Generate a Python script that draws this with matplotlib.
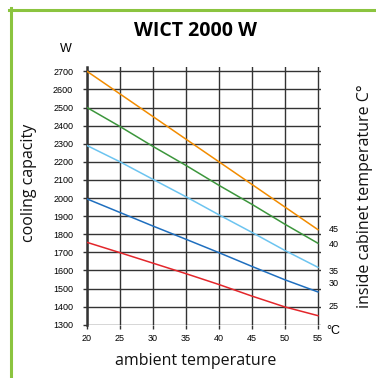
import matplotlib
matplotlib.use("Agg")
import matplotlib.pyplot as plt
from matplotlib.lines import Line2D

ambient = [20, 25, 30, 35, 40, 45, 50, 55]
inside_temps = ["45", "40", "35", "30", "25"]
cap45 = [2700, 2575, 2450, 2325, 2200, 2075, 1950, 1825]
cap40 = [2500, 2395, 2285, 2180, 2070, 1965, 1855, 1750]
cap35 = [2290, 2200, 2103, 2007, 1907, 1810, 1710, 1617]
cap30 = [1995, 1920, 1845, 1772, 1698, 1622, 1548, 1481]
cap25 = [1755, 1698, 1640, 1582, 1522, 1458, 1398, 1350]
label_y = [1827, 1745, 1596, 1525, 1403]
yticks = list(range(1300, 2701, 100))
xticks = [20, 25, 30, 35, 40, 45, 50, 55]

colors = ['#F28C00', '#3C963C', '#6CC4F0', '#1F6FBF', '#E3262B']
series = [cap45, cap40, cap35, cap30, cap25]

W, H = 376, 378
fig = plt.figure(figsize=(W/100, H/100), dpi=100)
fig.patch.set_facecolor('white')

# green frame
fig.add_artist(Line2D([10.5/W, 10.5/W], [0, 1 - 8/H], transform=fig.transFigure, color='#8BC43F', lw=2.2))
fig.add_artist(Line2D([9.4/W, 1], [1 - 9.5/H, 1 - 9.5/H], transform=fig.transFigure, color='#8BC43F', lw=2.2))

x0, x1 = 87/W, 320.6/W
y0, y1 = 1 - 324.7/H, 1 - 66.8/H
ax = fig.add_axes([x0, y0, x1 - x0, y1 - y0])
ax.set_xlim(20, 55.4)
ax.set_ylim(1300, 2725)

gridc = '#333333'
for t in xticks:
    ax.axvline(t, color=gridc, lw=1.0, zorder=1)
for t in yticks:
    ax.axhline(t, color=gridc, lw=1.0, zorder=1)

for s, c in zip(series, colors):
    ax.plot(ambient, s, color=c, lw=1.1, zorder=3)

for sp in ['top', 'right', 'bottom']:
    ax.spines[sp].set_visible(False)
ax.spines['left'].set_linewidth(1.8)
ax.spines['left'].set_color('#333333')

ax.set_xticks(xticks)
ax.set_yticks(yticks)
ax.set_xticklabels([str(t) for t in xticks], fontsize=6.5, family='Liberation Sans')
ax.set_yticklabels([str(t) for t in yticks], fontsize=6.5, family='Liberation Sans')
ax.tick_params(axis='both', direction='out', length=3, width=1.0, color=gridc)
ax.tick_params(axis='y', pad=7)
ax.tick_params(axis='x', pad=3.5)

for lab, yv in zip(inside_temps, label_y):
    ax.text(56.6, yv, lab, fontsize=6.5, family='Liberation Sans', va='center', ha='left')
ax.text(56.3, 1300, '°C', fontsize=9, family='Liberation Sans', va='top', ha='left',
        transform=ax.transData)

fig.text(196/W, 1 - 31/H, 'WICT 2000 W', fontsize=14, fontweight='bold', family='Open Sans',
         ha='center', va='center')
fig.text(66/W, 1 - 49/H, 'W', fontsize=9, family='Liberation Sans', ha='center', va='center')
fig.text(196/W, 1 - 361/H, 'ambient temperature', fontsize=11.5, family='Open Sans',
         ha='center', va='center', color='#111111')
fig.text(29/W, 1 - 183/H, 'cooling capacity', fontsize=11.5, family='Open Sans',
         rotation=90, ha='center', va='center', color='#111111')
fig.text(365/W, 1 - 196/H, 'inside cabinet temperature C°', fontsize=11.5, family='Open Sans',
         rotation=90, ha='center', va='center', color='#111111')

fig.savefig('out.png', dpi=100)
